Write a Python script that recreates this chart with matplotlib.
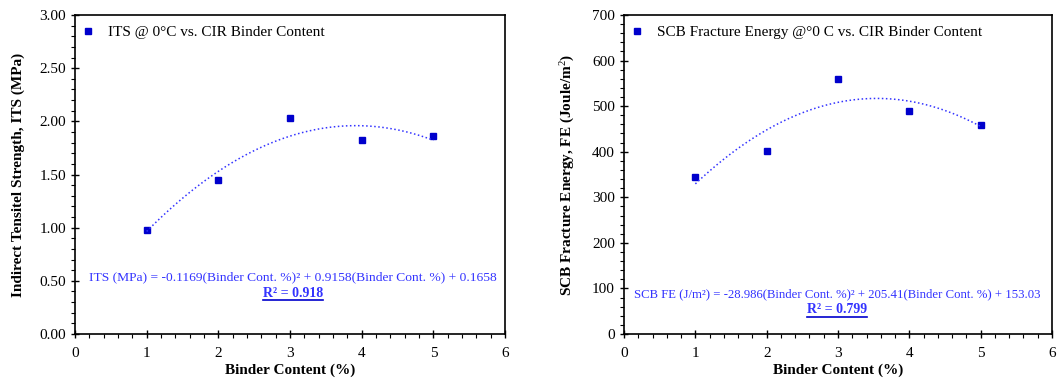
import numpy as np
import matplotlib
matplotlib.use('Agg')
import matplotlib.pyplot as plt
from matplotlib.ticker import MultipleLocator
from matplotlib.lines import Line2D

plt.rcParams['font.family'] = 'Liberation Serif'
plt.rcParams['mathtext.fontset'] = 'custom'
plt.rcParams['mathtext.rm'] = 'Liberation Serif'
plt.rcParams['mathtext.it'] = 'Liberation Serif:italic'
plt.rcParams['mathtext.bf'] = 'Liberation Serif:bold'

binder = [1, 2, 3, 4, 5]
its = [0.98, 1.45, 2.03, 1.82, 1.86]
scb = [345, 401, 560, 490, 458]
its_fit = [-0.1169, 0.9158, 0.1658]
scb_fit = [-28.986, 205.41, 153.03]

mark_c = '#0000cc'
eq_c = '#3333ff'

fig = plt.figure(figsize=(10.62, 3.79), dpi=100)
ax1 = fig.add_axes([0.0706, 0.1187, 0.405, 0.8417])
ax2 = fig.add_axes([0.5876, 0.1187, 0.403, 0.8417])

def style(ax, ymax, ymaj, ymin):
    ax.set_xlim(0, 6)
    ax.set_ylim(0, ymax)
    ax.xaxis.set_major_locator(MultipleLocator(1))
    ax.xaxis.set_minor_locator(MultipleLocator(0.2))
    ax.yaxis.set_major_locator(MultipleLocator(ymaj))
    ax.yaxis.set_minor_locator(MultipleLocator(ymin))
    ax.tick_params(which='major', direction='inout', length=6, width=1, labelsize=11)
    ax.tick_params(axis='x', which='major', pad=6)
    ax.tick_params(which='minor', direction='out', length=3, width=0.8)
    for s in ax.spines.values():
        s.set_linewidth(1.2)
    ax.set_xlabel('Binder Content (%)', fontsize=11, fontweight='bold', labelpad=3)

xs = np.linspace(1, 5, 100)

# left chart
ax1.plot(binder, its, 's', color=mark_c, ms=4, label='ITS @ 0°C vs. CIR Binder Content')
ax1.plot(xs, np.polyval(its_fit, xs), ':', color=eq_c, lw=1.1)
style(ax1, 3.0, 0.5, 0.1)
ax1.yaxis.set_major_formatter(plt.FormatStrFormatter('%.2f'))
ax1.set_ylabel('Indirect Tensitel Strength, ITS (MPa)', fontsize=11, fontweight='bold', labelpad=10)
ax1.legend(loc='upper left', frameon=False, fontsize=11, handlelength=1.0, handletextpad=0.8,
           borderaxespad=0.4, bbox_to_anchor=(-0.015, 1.005))
t1 = ax1.text(3.04, 0.536, 'ITS (MPa) = -0.1169(Binder Cont. %)² + 0.9158(Binder Cont. %) + 0.1658',
              color=eq_c, fontsize=9.7, ha='center', va='center')
r1 = ax1.text(3.04, 0.385, 'R² = 0.918', color=eq_c, fontsize=10, fontweight='bold',
              ha='center', va='center')

# right chart
ax2.plot(binder, scb, 's', color=mark_c, ms=4, label='SCB Fracture Energy @°0 C vs. CIR Binder Content')
ax2.plot(xs, np.polyval(scb_fit, xs), ':', color=eq_c, lw=1.1)
style(ax2, 700, 100, 20)
ax2.set_ylabel('SCB Fracture Energy, FE (Joule/m$^2$)', fontsize=11, fontweight='bold', labelpad=11)
ax2.legend(loc='upper left', frameon=False, fontsize=11, handlelength=1.0, handletextpad=0.8,
           borderaxespad=0.4, bbox_to_anchor=(-0.015, 1.005))
t2 = ax2.text(2.99, 88, 'SCB FE (J/m²) = -28.986(Binder Cont. %)² + 205.41(Binder Cont. %) + 153.03',
              color=eq_c, fontsize=9.2, ha='center', va='center')
r2 = ax2.text(2.99, 54, 'R² = 0.799', color=eq_c, fontsize=10, fontweight='bold',
              ha='center', va='center')

# underline R² labels
fig.canvas.draw()
inv = fig.transFigure.inverted()
for r in (r1, r2):
    bb = r.get_window_extent()
    (x0, y0), (x1, y1) = inv.transform([[bb.x0, bb.y0], [bb.x1, bb.y0]])
    fig.add_artist(Line2D([x0, x1], [y0 - 0.002, y1 - 0.002], color=mark_c, lw=1.2,
                          transform=fig.transFigure))

fig.savefig('out.png', dpi=100)
